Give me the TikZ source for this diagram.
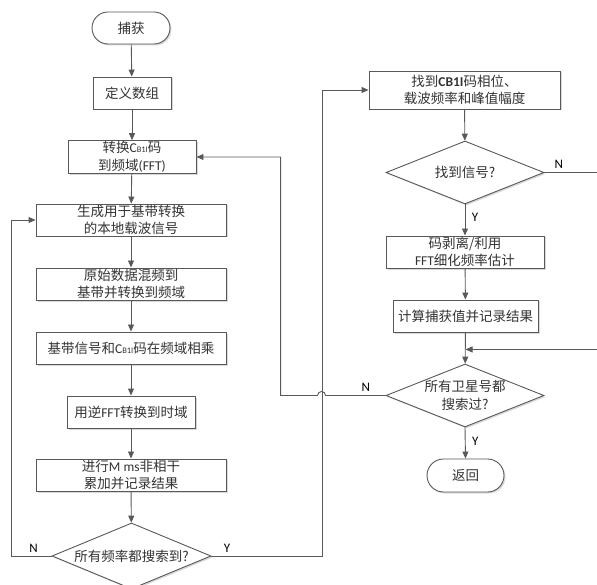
\documentclass[tikz,border=0pt]{standalone}
\usepackage{fontspec}
\setmainfont{Noto Sans CJK SC}
\newfontfamily\latin{Carlito}
\usetikzlibrary{shapes.geometric,shapes.misc,shadows,arrows.meta}
\newcommand{\CBsmall}{{\latin C{\fontsize{8.5}{8.5}\selectfont B1I}}}
\newcommand{\CBbold}{{\latin\bfseries CB1I}}
\newcommand{\lt}[1]{{\latin #1}}

\begin{document}
\begin{tikzpicture}[x=1pt, y=-1pt,
  every node/.style={text=black!80, font=\fontsize{13.5}{17.5}\selectfont},
  box/.style={draw=black!65, fill=white, line width=0.9pt, minimum height=32pt, inner sep=1pt, align=center,
    drop shadow={shadow xshift=1.5pt, shadow yshift=-1.5pt, fill=black!15, opacity=1}},
  term/.style={box, rounded rectangle, minimum width=80pt},
  test/.style={box, diamond, aspect=2.5, minimum width=158pt, minimum height=64pt, inner sep=-2pt},
  arr/.style={->, >={Triangle[length=7pt,width=6pt]}, draw=black!65, line width=0.9pt},
  yn/.style={font=\latin\fontsize{13}{13}\selectfont, text=black}
]
  \useasboundingbox (0,0) rectangle (597,585);

  % Frequency search (left column)
  \node[term] (start) at (131,28) {捕获};
  \node[box, minimum width=78pt] (define) at (132,93) {定义数组};
  \node[box, minimum width=128pt] (fft) at (132,157) {转换\CBsmall 码\\到频域\lt{(FFT)}};
  \node[box, minimum width=190pt] (carrier) at (131,220) {生成用于基带转换\\的本地载波信号};
  \node[box, minimum width=190pt] (mix) at (131,284) {原始数据混频到\\基带并转换到频域};
  \node[box, minimum width=190pt] (mult) at (131,348) {基带信号和\CBsmall 码在频域相乘};
  \node[box, minimum width=128pt] (ifft) at (131,412) {用逆\lt{FFT}转换到时域};
  \node[box, minimum width=190pt] (accum) at (131,475) {进行\lt{M ms}非相干\\累加并记录结果};
  \node[test, minimum width=159pt, minimum height=66pt] (allfreq) at (131.5,556) {所有频率都搜索到?};

  \draw[arr] (start) -- (define);
  \draw[arr] (define) -- (fft);
  \draw[arr] (fft) -- (carrier);
  \draw[arr] (carrier) -- (mix);
  \draw[arr] (mix) -- (mult);
  \draw[arr] (mult) -- (ifft);
  \draw[arr] (ifft) -- (accum);
  \draw[arr] (accum) -- (allfreq);
  \draw[arr] (allfreq.west) -- ++(-40,0) node[yn, pos=0.45, above] {N} |- (carrier.west);

  % Peak detection (right column)
  \node[box, minimum width=191pt, minimum height=38pt] (findcode) at (464.5,90) {找到\CBbold 码相位、\\载波频率和峰值幅度};
  \node[test, minimum height=63pt] (found) at (465,172.5) {找到信号?};
  \node[box, minimum width=158pt] (refine) at (465,252) {码剥离/利用\\\lt{FFT}细化频率估计};
  \node[box, minimum width=145pt] (calc) at (465.5,316) {计算捕获值并记录结果};
  \node[test, minimum height=63pt, inner sep=-5pt] (allsat) at (465,395.5) {所有卫星号都\\搜索过?};
  \node[term, minimum width=79pt, minimum height=33pt] (ret) at (465.5,475.5) {返回};
  \path (calc.south) ++(0,17) coordinate (merge);

  \draw[arr] (allfreq.east) -- ++(111,0) node[yn, pos=0.14, above] {Y} |- (findcode.west);
  \draw[arr] (findcode) -- (found);
  \draw[arr] (found) -- (refine) node[yn, pos=0.4, right=3pt] {Y};
  \draw[arr] (refine) -- (calc);
  \draw[arr] (calc) -- (allsat);
  \draw[arr] (allsat.south) -- (ret.north) node[yn, pos=0.45, right=3pt] {Y};
  \draw[arr] (found.east) -- ++(57,0) node[yn, pos=0.25, above] {N} |- (merge);

  % Next satellite, jumping over the Y line
  \draw[arr] (allsat.west) -- ++(-60,0) node[yn, pos=0.33, above] {N}
    arc[start angle=0, end angle=180, radius=4pt] -- ++(-37,0) |- (fft.east);
\end{tikzpicture}
\end{document}
